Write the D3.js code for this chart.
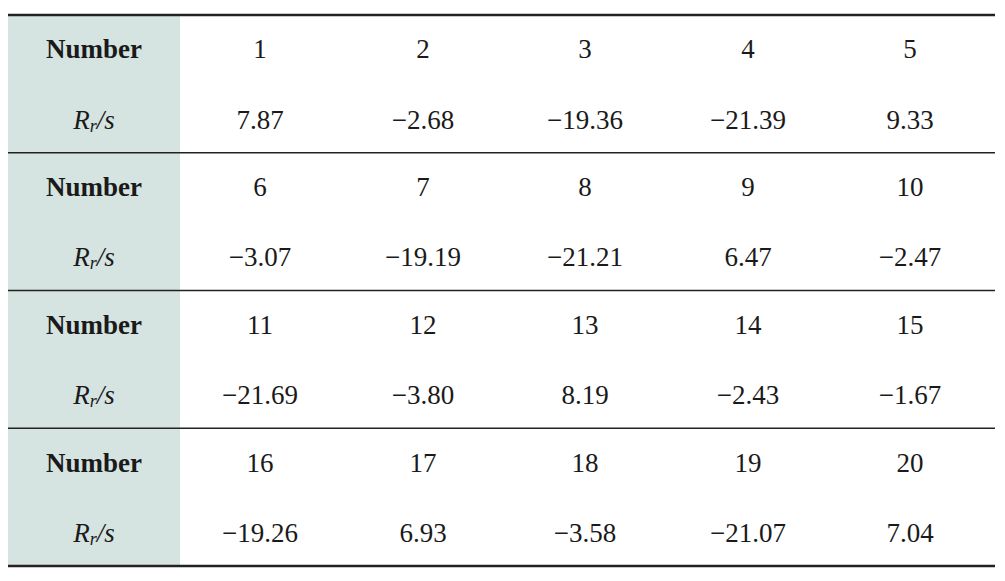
<!DOCTYPE html>
<html><head><meta charset="utf-8">
<script src="https://cdn.jsdelivr.net/npm/d3@7"></script>
<style>body{margin:0;background:#fff}</style>
</head><body>
<script>
var numbers = [[1,2,3,4,5],[6,7,8,9,10],[11,12,13,14,15],[16,17,18,19,20]];
var rrValues = [
  ['7.87','\u22122.68','\u221219.36','\u221221.39','9.33'],
  ['\u22123.07','\u221219.19','\u221221.21','6.47','\u22122.47'],
  ['\u221221.69','\u22123.80','8.19','\u22122.43','\u22121.67'],
  ['\u221219.26','6.93','\u22123.58','\u221221.07','7.04']
];
var colCenters = [260, 423, 585, 748, 910];

var svg = d3.select('body').append('svg').attr('width', 1005).attr('height', 581);
var y = d3.scaleLinear().domain([0, 4]).range([15, 566]);
var font = 'Liberation Serif, Times New Roman, serif';

svg.append('rect').attr('x', 8).attr('y', y(0)).attr('width', 172).attr('height', y(4) - y(0))
  .attr('fill', '#d6e4e1');

d3.range(5).forEach(function(i) {
  var edge = i === 0 || i === 4;
  svg.append('line').attr('x1', 8).attr('x2', 995).attr('y1', y(i)).attr('y2', y(i))
    .attr('stroke', '#222').attr('stroke-width', edge ? 2.5 : 1.3);
});

numbers.forEach(function(row, g) {
  var top = y(g), h = y(g + 1) - y(g);
  var y1 = top + h * 0.25, y2 = top + h * 0.76;
  svg.append('text').attr('x', 94).attr('y', y1).attr('text-anchor', 'middle')
    .attr('dominant-baseline', 'central').attr('font-family', font).attr('font-size', 27)
    .attr('font-weight', 'bold').attr('fill', '#1a1a1a').text('Number');
  var t = svg.append('text').attr('x', 94).attr('y', y2).attr('text-anchor', 'middle')
    .attr('dominant-baseline', 'central').attr('font-family', font).attr('font-size', 27)
    .attr('font-style', 'italic').attr('fill', '#1a1a1a');
  t.append('tspan').text('R');
  t.append('tspan').attr('font-size', 18).attr('dy', 6).text('r');
  t.append('tspan').attr('dy', -6).text('/s');
  row.forEach(function(n, j) {
    svg.append('text').attr('x', colCenters[j]).attr('y', y1).attr('text-anchor', 'middle')
      .attr('dominant-baseline', 'central').attr('font-family', font).attr('font-size', 27)
      .attr('fill', '#1a1a1a').text(n);
    svg.append('text').attr('x', colCenters[j]).attr('y', y2).attr('text-anchor', 'middle')
      .attr('dominant-baseline', 'central').attr('font-family', font).attr('font-size', 27)
      .attr('fill', '#1a1a1a').text(rrValues[g][j]);
  });
});
</script>
</body></html>
